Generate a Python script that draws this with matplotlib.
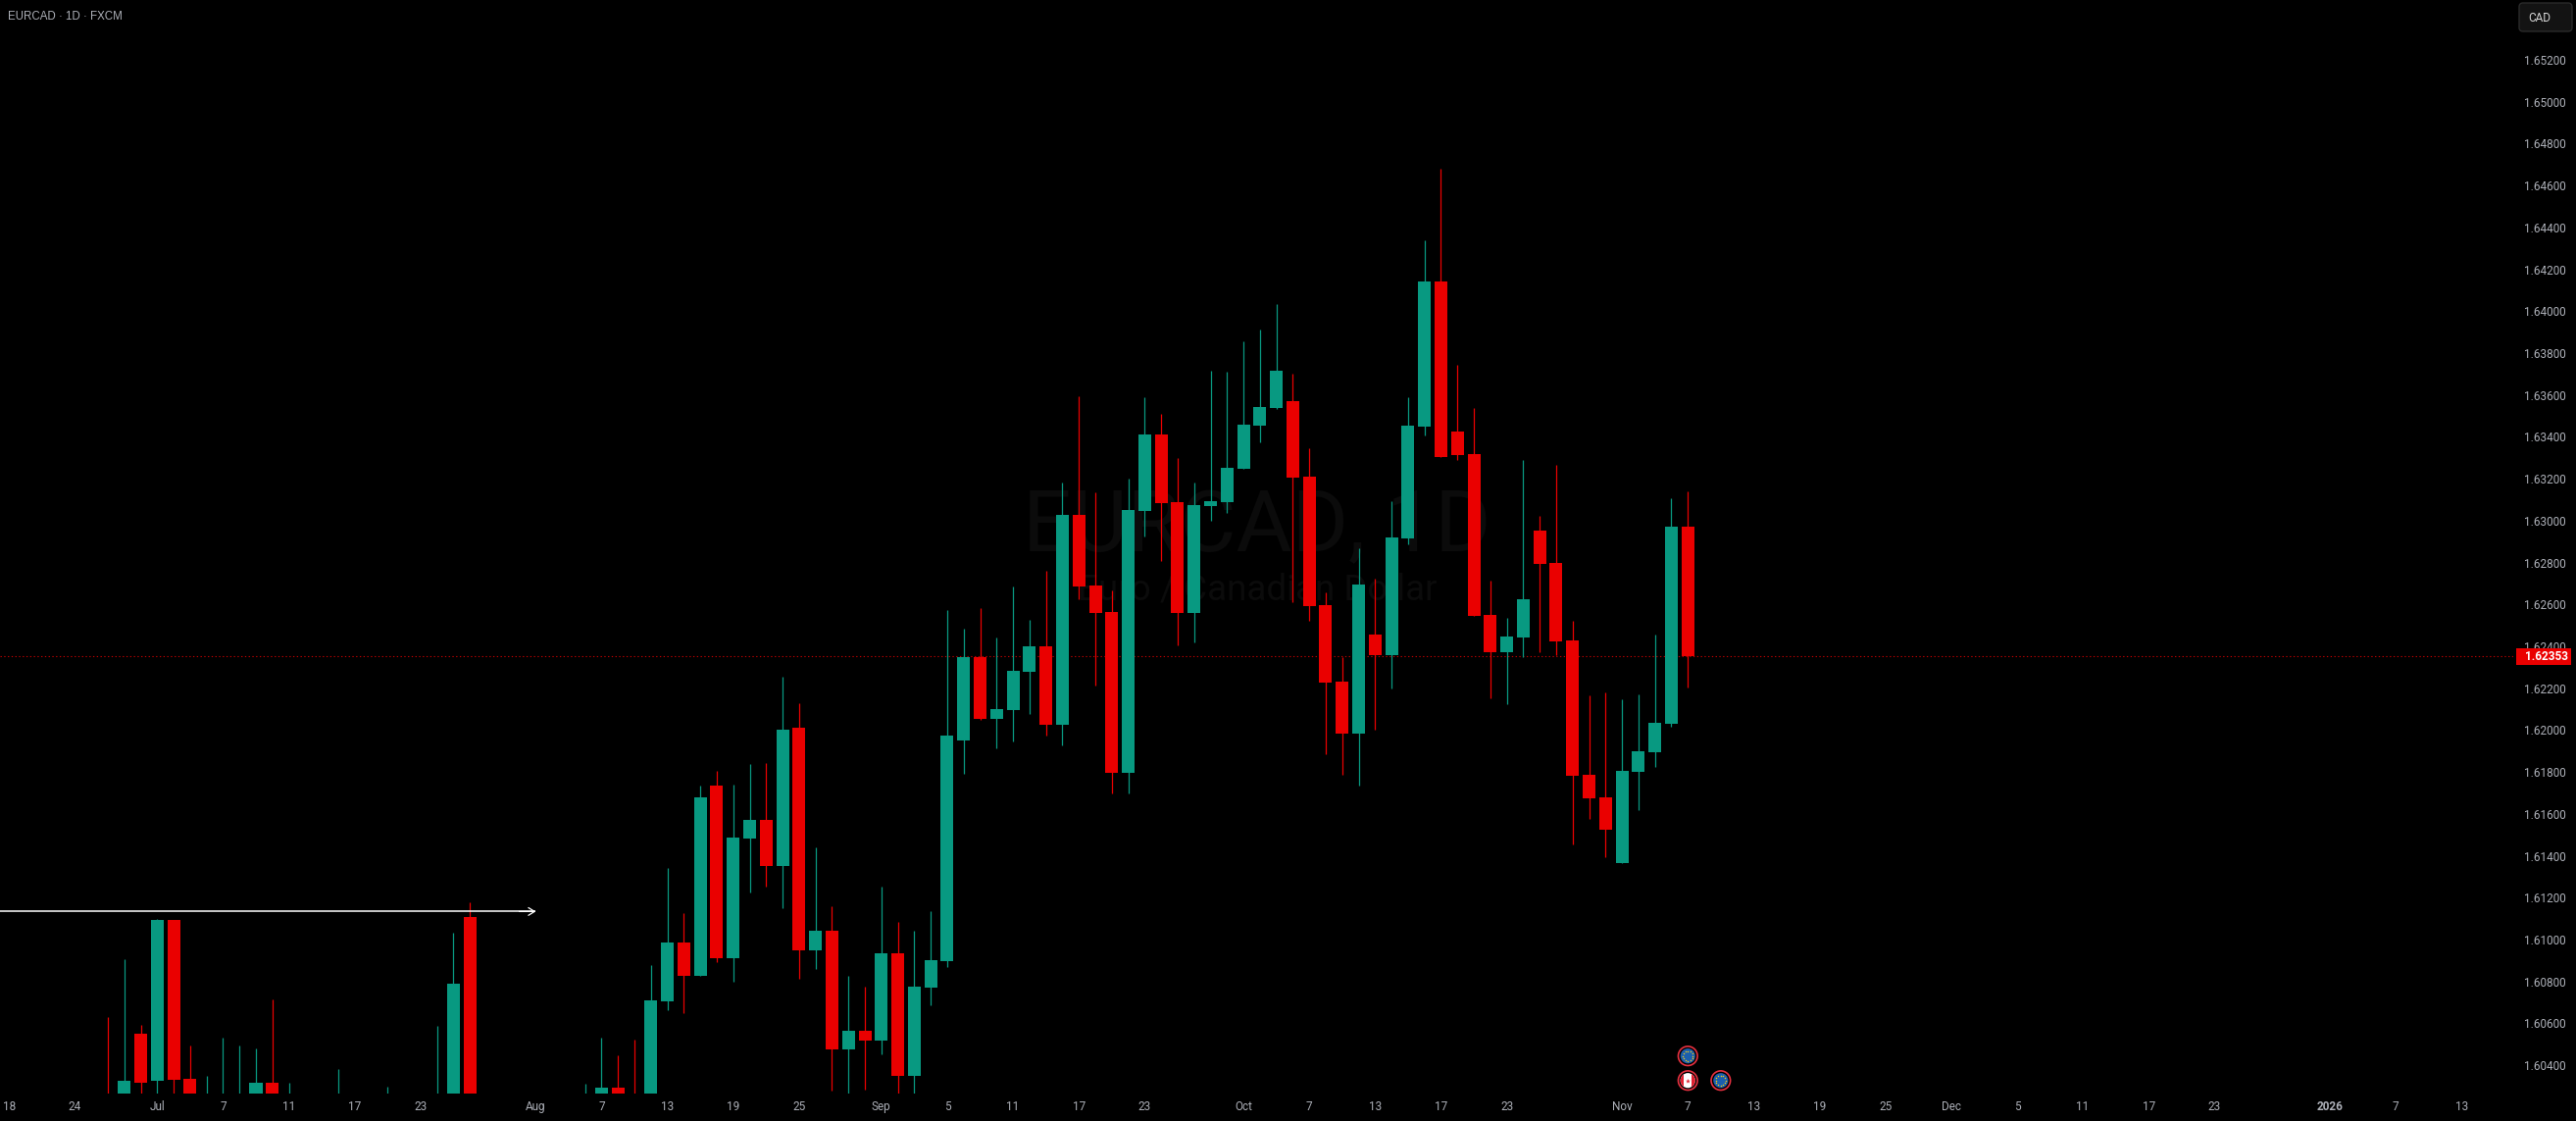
import numpy as np
import matplotlib

matplotlib.use("Agg")
import matplotlib.pyplot as plt
from matplotlib.patches import Circle, FancyBboxPatch, Rectangle

plt.rcParams["font.family"] = ["Roboto", "DejaVu Sans"]

BG = "#000000"
UP = "#089981"
DOWN = "#ea0000"
TEXT = "#adb0b8"

# daily bars, month-day in 2025 (days that sit under the pane are left out)
bar_dates = [
    "06-26", "06-27", "06-30", "07-01", "07-02", "07-03", "07-04", "07-07", "07-08", "07-09",
    "07-10", "07-11", "07-16", "07-21", "07-24", "07-25", "07-28", "08-06", "08-07", "08-08",
    "08-11", "08-12", "08-13", "08-14", "08-15", "08-18", "08-19", "08-20", "08-21", "08-22",
    "08-25", "08-26", "08-27", "08-28", "08-29", "09-01", "09-02", "09-03", "09-04", "09-05",
    "09-08", "09-09", "09-10", "09-11", "09-12", "09-15", "09-16", "09-17", "09-18", "09-19",
    "09-22", "09-23", "09-24", "09-25", "09-26", "09-29", "09-30", "10-01", "10-02", "10-03",
    "10-06", "10-07", "10-08", "10-09", "10-10", "10-13", "10-14", "10-15", "10-16", "10-17",
    "10-20", "10-21", "10-22", "10-23", "10-24", "10-27", "10-28", "10-29", "10-30", "10-31",
    "11-03", "11-04", "11-05", "11-06", "11-07",
]
opens = [
    1.60200, 1.60200, 1.60550, 1.60326, 1.61094, 1.60335, 1.60180, 1.60180, 1.60180, 1.60200,
    1.60316, 1.60180, 1.60180, 1.60180, 1.60180, 1.60200, 1.61108, 1.60180, 1.60200, 1.60293,
    1.60200, 1.60200, 1.60705, 1.60986, 1.60827, 1.61735, 1.60911, 1.61482, 1.61571, 1.61351,
    1.62011, 1.60948, 1.61042, 1.60476, 1.60565, 1.60518, 1.60934, 1.60349, 1.60771, 1.60897,
    1.61950, 1.62348, 1.62054, 1.62096, 1.62278, 1.62400, 1.62025, 1.63027, 1.62690, 1.62564,
    1.61796, 1.63046, 1.63411, 1.63088, 1.62559, 1.63070, 1.63088, 1.63247, 1.63453, 1.63538,
    1.63571, 1.63210, 1.62597, 1.62231, 1.61983, 1.62456, 1.62358, 1.62915, 1.63449, 1.64142,
    1.63425, 1.63318, 1.62550, 1.62372, 1.62442, 1.62952, 1.62798, 1.62428, 1.61787, 1.61679,
    1.61365, 1.61801, 1.61894, 1.62030, 1.62971,
]
highs = [
    1.60630, 1.60906, 1.60593, 1.61098, 1.61094, 1.60494, 1.60349, 1.60532, 1.60494, 1.60480,
    1.60714, 1.60316, 1.60382, 1.60298, 1.60588, 1.61033, 1.61178, 1.60312, 1.60532, 1.60447,
    1.60522, 1.60878, 1.61342, 1.61126, 1.61735, 1.61805, 1.61740, 1.61838, 1.61843, 1.62255,
    1.62128, 1.61440, 1.61159, 1.60827, 1.60775, 1.61253, 1.61084, 1.61042, 1.61136, 1.62573,
    1.62484, 1.62583, 1.62442, 1.62686, 1.62526, 1.62761, 1.63182, 1.63594, 1.63135, 1.62667,
    1.63201, 1.63589, 1.63510, 1.63299, 1.63182, 1.63716, 1.63711, 1.63856, 1.63912, 1.64034,
    1.63702, 1.63346, 1.62658, 1.62348, 1.62868, 1.62723, 1.63093, 1.63589, 1.64338, 1.64680,
    1.63744, 1.63538, 1.62714, 1.62536, 1.63290, 1.63023, 1.63266, 1.62522, 1.62166, 1.62180,
    1.62147, 1.62171, 1.62456, 1.63107, 1.63140,
]
lows = [
    1.60150, 1.60150, 1.60150, 1.60150, 1.60150, 1.60150, 1.60150, 1.60150, 1.60150, 1.60150,
    1.60150, 1.60150, 1.60150, 1.60150, 1.60150, 1.60150, 1.60150, 1.60150, 1.60150, 1.60150,
    1.60150, 1.60150, 1.60663, 1.60649, 1.60827, 1.60892, 1.60799, 1.61225, 1.61253, 1.61150,
    1.60813, 1.60860, 1.60279, 1.60200, 1.60284, 1.60452, 1.60200, 1.60260, 1.60686, 1.60869,
    1.61791, 1.62049, 1.61913, 1.61946, 1.62077, 1.61974, 1.61927, 1.62625, 1.62213, 1.61698,
    1.61698, 1.62924, 1.62807, 1.62405, 1.62419, 1.62999, 1.63037, 1.63247, 1.63374, 1.63533,
    1.62611, 1.62522, 1.61885, 1.61787, 1.61735, 1.62002, 1.62199, 1.62887, 1.63407, 1.63304,
    1.63290, 1.62545, 1.62152, 1.62124, 1.62348, 1.62372, 1.62358, 1.61454, 1.61576, 1.61393,
    1.61365, 1.61618, 1.61824, 1.62016, 1.62203,
]
closes = [
    1.60150, 1.60326, 1.60316, 1.61094, 1.60330, 1.60200, 1.60200, 1.60200, 1.60200, 1.60316,
    1.60200, 1.60200, 1.60200, 1.60200, 1.60200, 1.60789, 1.60200, 1.60200, 1.60293, 1.60200,
    1.60180, 1.60710, 1.60986, 1.60827, 1.61679, 1.60911, 1.61487, 1.61571, 1.61351, 1.62002,
    1.60948, 1.61042, 1.60476, 1.60565, 1.60518, 1.60934, 1.60349, 1.60775, 1.60902, 1.61974,
    1.62348, 1.62054, 1.62100, 1.62283, 1.62400, 1.62025, 1.63027, 1.62686, 1.62559, 1.61796,
    1.63051, 1.63411, 1.63084, 1.62559, 1.63074, 1.63093, 1.63252, 1.63458, 1.63542, 1.63716,
    1.63205, 1.62592, 1.62227, 1.61983, 1.62695, 1.62358, 1.62920, 1.63453, 1.64142, 1.63304,
    1.63313, 1.62545, 1.62372, 1.62447, 1.62625, 1.62793, 1.62423, 1.61782, 1.61674, 1.61524,
    1.61805, 1.61899, 1.62035, 1.62971, 1.62353,
]

price_ticks = [1.604, 1.606, 1.608, 1.610, 1.612, 1.614, 1.616, 1.618, 1.620, 1.622, 1.624, 1.626, 1.628,
               1.630, 1.632, 1.634, 1.636, 1.638, 1.640, 1.642, 1.644, 1.646, 1.648, 1.650, 1.652]
time_ticks = ["2025-06-18", "2025-06-24", "2025-07-01", "2025-07-07", "2025-07-11", "2025-07-17",
              "2025-07-23", "2025-08-01", "2025-08-07", "2025-08-13", "2025-08-19", "2025-08-25",
              "2025-09-01", "2025-09-05", "2025-09-11", "2025-09-17", "2025-09-23", "2025-10-01",
              "2025-10-07", "2025-10-13", "2025-10-17", "2025-10-23", "2025-11-03", "2025-11-07",
              "2025-11-13", "2025-11-19", "2025-11-25", "2025-12-01", "2025-12-05", "2025-12-11",
              "2025-12-17", "2025-12-23", "2026-01-01", "2026-01-07", "2026-01-13"]
time_labels = ["18", "24", "Jul", "7", "11", "17", "23", "Aug", "7", "13", "19", "25", "Sep", "5", "11",
               "17", "23", "Oct", "7", "13", "17", "23", "Nov", "7", "13", "19", "25", "Dec", "5", "11",
               "17", "23", "2026", "7", "13"]

last_price = 1.62353
level_price = 1.61134
level_end = "2025-08-01"
event_dates = ["2025-11-07", "2025-11-07", "2025-11-11"]
event_flags = ["EU", "CA", "EU"]


def bar_pos(day):
    # trading days since 1 Jul, the axis skips weekends
    return np.busday_count("2025-07-01", day)


W, H = 2627, 1143
PANE_R, PANE_B = 2563, 1115

fig = plt.figure(figsize=(W / 100, H / 100), dpi=100, facecolor=BG)
ax = fig.add_axes([0, 1 - PANE_B / H, PANE_R / W, PANE_B / H], facecolor=BG)
ov = fig.add_axes([0, 0, 1, 1], zorder=5)
ov.set_xlim(0, W)
ov.set_ylim(H, 0)
ov.set_axis_off()

ax.set_xlim(-9.55, 143.15)
ax.set_ylim(1.60265, 1.654856)

x = np.array([bar_pos("2025-" + d) for d in bar_dates])
opens = np.array(opens)
closes = np.array(closes)
colors = [UP if c >= o else DOWN for o, c in zip(opens, closes)]

# watermark goes behind everything
ax.text(1282, 562, "EURCAD, 1D", transform=ov.transData, color="#0b0b0b", fontsize=63,
        ha="center", va="baseline", zorder=0)
ax.text(1282, 611, "Euro / Canadian Dollar", transform=ov.transData, color="#0b0b0b", fontsize=26.5,
        ha="center", va="baseline", zorder=0)

ax.vlines(x, lows, highs, colors=colors, linewidth=0.9, zorder=2)
ax.bar(x, np.abs(closes - opens), bottom=np.minimum(opens, closes), width=0.775, color=colors,
       linewidth=0, zorder=3)

ax.axhline(last_price, color=DOWN, linewidth=0.8, linestyle=(0, (1.2, 2.2)), alpha=0.8, zorder=1)

ax.plot([ax.get_xlim()[0], bar_pos(level_end)], [level_price, level_price], color="#ffffff", linewidth=1.1,
        zorder=4, solid_capstyle="butt")
ax.annotate("", xy=(bar_pos(level_end), level_price), xytext=(bar_pos(level_end) - 1, level_price),
            arrowprops=dict(arrowstyle="->,head_length=0.45,head_width=0.28", color="#ffffff", lw=0.9,
                            shrinkA=0, shrinkB=0), zorder=4)

ax.yaxis.tick_right()
ax.set_yticks(price_ticks)
ax.set_yticklabels(["%.5f" % p for p in price_ticks])
ax.set_xticks([bar_pos(d) for d in time_ticks])
ax.set_xticklabels(time_labels)
ax.tick_params(axis="both", length=0, labelcolor=TEXT, labelsize=8.5)
ax.tick_params(axis="y", pad=8)
ax.tick_params(axis="x", pad=5.2)
for spine in ax.spines.values():
    spine.set_visible(False)
for lab in ax.get_xticklabels():
    if lab.get_text() == "2026":
        lab.set_fontweight("bold")

ov.text(8, 16.7, "EURCAD · 1D · FXCM", color=TEXT, fontsize=8.3, va="center", ha="left",
        family=["Liberation Sans", "DejaVu Sans"])

# currency button
ov.add_patch(FancyBboxPatch((2569, 3), 54, 29, boxstyle="round,pad=0,rounding_size=4", facecolor="#131313",
                            edgecolor="#2a2a2a", linewidth=1))
ov.text(2578, 18.5, "CAD", color="#d8d8d8", fontsize=8.5, va="center", ha="left")

# price badge
last_y = 669.3
ov.add_patch(Rectangle((2566, last_y - 8.5), 56, 17, facecolor=DOWN, edgecolor="none"))
ov.text(2575, last_y, "%.5f" % last_price, color="#ffffff", fontsize=8.5, fontweight="bold", va="center",
        ha="left")

# economic event icons
rows = {0: 1076.7, 1: 1101.7, 2: 1101.7}
for i, (day, flag) in enumerate(zip(event_dates, event_flags)):
    cx = ax.transData.transform((bar_pos(day), 1.61))[0]
    cy = rows[i]
    ov.add_patch(Circle((cx, cy), 9.8, facecolor="#000000", edgecolor="#e5303f", linewidth=1.2))
    if flag == "EU":
        ov.add_patch(Circle((cx, cy), 7.6, facecolor="#1a5fae", edgecolor="none"))
        ang = np.deg2rad(np.arange(0, 360, 30))
        ov.scatter(cx + 5 * np.cos(ang), cy + 5 * np.sin(ang), s=1.2, color="#e8c61e", linewidths=0)
    else:
        disc = Circle((cx, cy), 7.6, facecolor="#ffffff", edgecolor="none")
        ov.add_patch(disc)
        for left in (cx - 8, cx + 4):
            side = Rectangle((left, cy - 8), 4, 16, facecolor="#e02030", edgecolor="none")
            ov.add_patch(side)
            side.set_clip_path(disc)
        ov.scatter([cx], [cy], s=14, marker="*", color="#e02030", linewidths=0)

fig.savefig("out.png", dpi=100, facecolor=BG)
